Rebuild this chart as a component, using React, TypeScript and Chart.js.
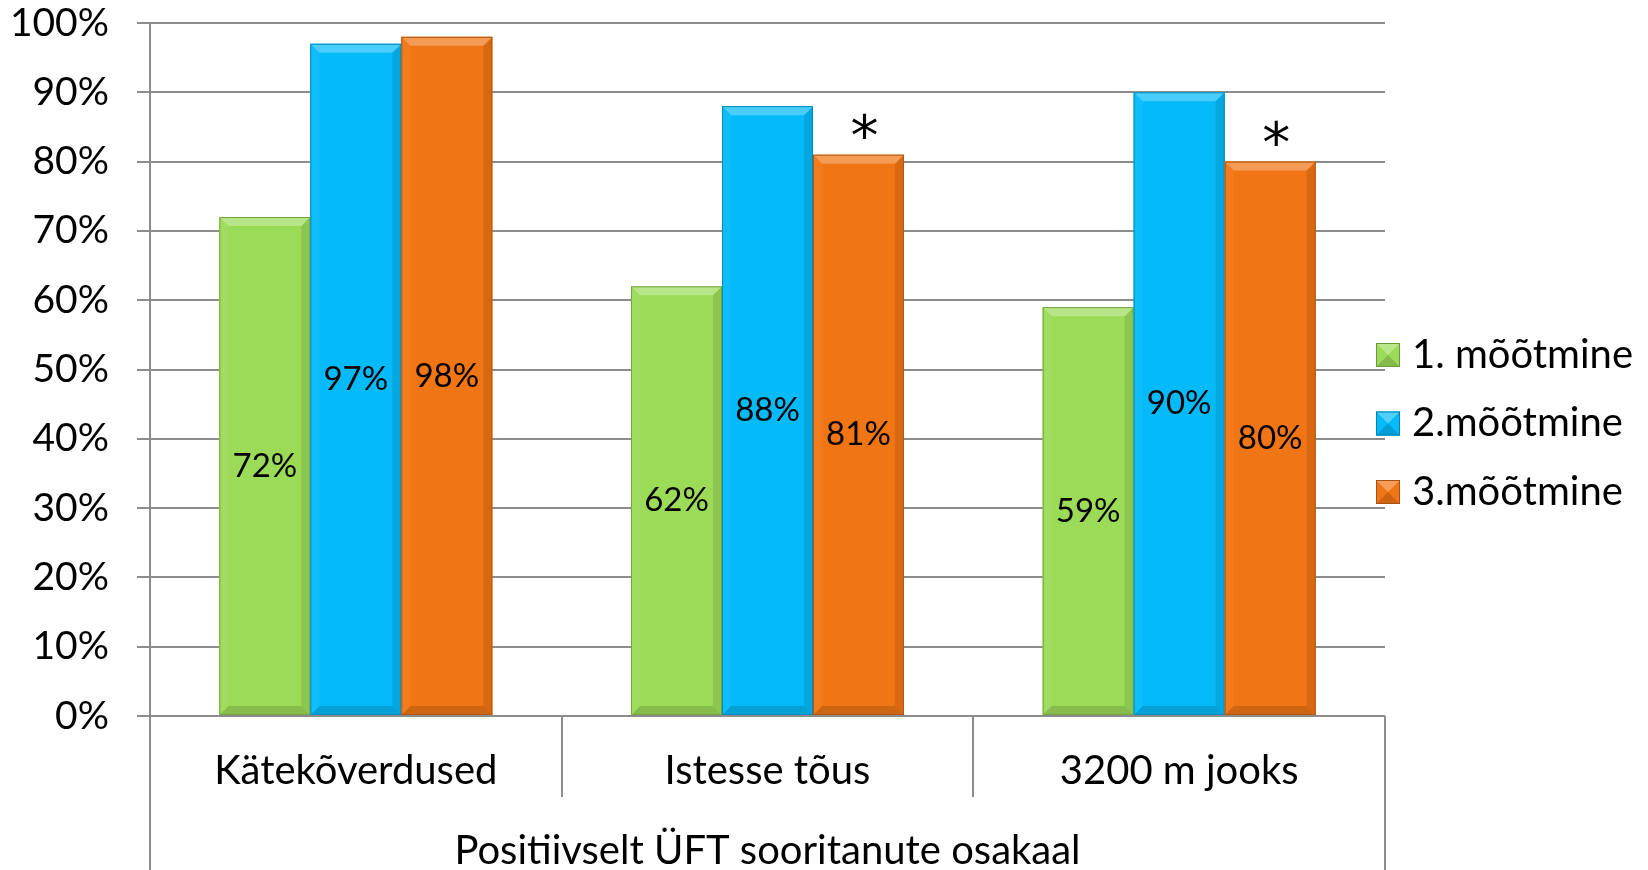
import React, { useEffect, useRef } from "react";
import { Chart, registerables } from "chart.js";

Chart.register(...registerables);

const categories = ["Kätekõverdused", "Istesse tõus", "3200 m jooks"];
const seriesNames = ["1. mõõtmine", "2.mõõtmine", "3.mõõtmine"];
const series1 = [72, 62, 59];
const series2 = [97, 88, 90];
const series3 = [98, 81, 80];
const seriesMarks3 = ["", "*", "*"];
const axisTitle = "Positiivselt ÜFT sooritanute osakaal";
const colors = ["#9BDB58", "#05BAF9", "#F07514"];

const FONT = "Lato, 'Open Sans', sans-serif";
const GRID = "#8c8c8c";

function shade(hex: string, amt: number): string {
  const n = parseInt(hex.slice(1), 16);
  let r = (n >> 16) & 255, g = (n >> 8) & 255, b = n & 255;
  const f = (c: number) =>
    Math.round(amt >= 0 ? c + (255 - c) * amt : c * (1 + amt));
  return `rgb(${f(r)},${f(g)},${f(b)})`;
}

const decorPlugin = {
  id: "decor",
  afterDatasetsDraw(chart: any) {
    const ctx = chart.ctx;
    ctx.save();
    chart.data.datasets.forEach((ds: any, di: number) => {
      const meta = chart.getDatasetMeta(di);
      const base = colors[di];
      meta.data.forEach((bar: any, i: number) => {
        const x0 = bar.x - bar.width / 2;
        const x1 = bar.x + bar.width / 2;
        const yT = bar.y;
        const yB = bar.base;
        const b = 9;
        ctx.fillStyle = shade(base, -0.1);
        ctx.beginPath();
        ctx.moveTo(x1, yT); ctx.lineTo(x1, yB); ctx.lineTo(x1 - b, yB - b); ctx.lineTo(x1 - b, yT + b);
        ctx.closePath(); ctx.fill();
        ctx.fillStyle = shade(base, -0.14);
        ctx.beginPath();
        ctx.moveTo(x0, yB); ctx.lineTo(x1, yB); ctx.lineTo(x1 - b, yB - b); ctx.lineTo(x0 + b, yB - b);
        ctx.closePath(); ctx.fill();
        ctx.fillStyle = shade(base, 0.04);
        ctx.beginPath();
        ctx.moveTo(x0, yT); ctx.lineTo(x0, yB); ctx.lineTo(x0 + b, yB - b); ctx.lineTo(x0 + b, yT + b);
        ctx.closePath(); ctx.fill();
        ctx.fillStyle = shade(base, 0.28);
        ctx.beginPath();
        ctx.moveTo(x0, yT); ctx.lineTo(x1, yT); ctx.lineTo(x1 - b, yT + b); ctx.lineTo(x0 + b, yT + b);
        ctx.closePath(); ctx.fill();
        ctx.strokeStyle = shade(base, -0.25);
        ctx.lineWidth = 1;
        ctx.strokeRect(x0 + 0.5, yT + 0.5, bar.width - 1, yB - yT - 1);

        ctx.fillStyle = "#000";
        ctx.font = `33px ${FONT}`;
        ctx.textAlign = "center";
        ctx.textBaseline = "middle";
        ctx.fillText(ds.data[i] + "%", bar.x, (yT + yB) / 2);

        if (di === 2 && seriesMarks3[i]) {
          ctx.font = `56px 'DejaVu Sans', sans-serif`;
          ctx.textBaseline = "middle";
          ctx.fillText(seriesMarks3[i], bar.x + 6, yT - 14);
        }
      });
    });
    ctx.restore();
  },
  afterDraw(chart: any) {
    const ctx = chart.ctx;
    const { left, right, bottom } = chart.chartArea;
    const n = categories.length;
    const w = (right - left) / n;
    ctx.save();
    ctx.strokeStyle = GRID;
    ctx.lineWidth = 2;
    for (let i = 0; i <= n; i++) {
      const xx = Math.round(left + i * w);
      const yEnd = i === 0 || i === n ? chart.height : bottom + 81;
      ctx.beginPath();
      ctx.moveTo(xx, bottom);
      ctx.lineTo(xx, yEnd);
      ctx.stroke();
    }
    ctx.fillStyle = "#000";
    ctx.font = `40px ${FONT}`;
    ctx.textAlign = "center";
    ctx.textBaseline = "middle";
    ctx.fillText(axisTitle, (left + right) / 2, 851);

    const lx = 1376;
    const ly0 = 355;
    const step = 68.5;
    chart.data.datasets.forEach((ds: any, di: number) => {
      const cy = ly0 + di * step;
      const s = 24;
      const c = colors[di];
      ctx.fillStyle = c;
      ctx.fillRect(lx, cy - s / 2, s, s);
      ctx.fillStyle = shade(c, 0.3);
      ctx.beginPath();
      ctx.moveTo(lx, cy - s / 2); ctx.lineTo(lx + s, cy - s / 2); ctx.lineTo(lx + s / 2, cy);
      ctx.closePath(); ctx.fill();
      ctx.fillStyle = shade(c, -0.15);
      ctx.beginPath();
      ctx.moveTo(lx, cy + s / 2); ctx.lineTo(lx + s, cy + s / 2); ctx.lineTo(lx + s / 2, cy);
      ctx.closePath(); ctx.fill();
      ctx.strokeStyle = shade(c, -0.3);
      ctx.lineWidth = 1;
      ctx.strokeRect(lx + 0.5, cy - s / 2 + 0.5, s - 1, s - 1);
      ctx.fillStyle = "#000";
      ctx.font = `40px ${FONT}`;
      ctx.textAlign = "left";
      ctx.textBaseline = "middle";
      ctx.fillText(ds.label, lx + 36, cy);
    });
    ctx.restore();
  },
};

export default function App() {
  const ref = useRef<HTMLCanvasElement | null>(null);
  useEffect(() => {
    if (!ref.current) return;
    const chart = new Chart(ref.current, {
      type: "bar",
      data: {
        labels: categories,
        datasets: [
          { label: seriesNames[0], data: series1, backgroundColor: colors[0] },
          { label: seriesNames[1], data: series2, backgroundColor: colors[1] },
          { label: seriesNames[2], data: series3, backgroundColor: colors[2] },
        ],
      },
      options: {
        responsive: false,
        animation: false,
        layout: { padding: { top: 23, right: 263, left: 0, bottom: 0 } },
        datasets: { bar: { categoryPercentage: 0.663, barPercentage: 1.0 } },
        plugins: { legend: { display: false }, tooltip: { enabled: false } },
        scales: {
          x: {
            grid: { display: false, drawTicks: false },
            border: { display: false },
            ticks: { color: "#000", font: { family: FONT, size: 40 }, padding: 31 },
            afterFit: (s: any) => { s.height = 154; s.paddingLeft = 0; s.paddingRight = 0; },
          },
          y: {
            min: 0,
            max: 100,
            ticks: {
              stepSize: 10,
              color: "#000",
              font: { family: FONT, size: 39, lineHeight: 1.15 },
              padding: 28,
              callback: (v: any) => v + "%",
            },
            grid: { color: GRID, lineWidth: 2, drawTicks: true, tickLength: 13, tickColor: GRID },
            border: { display: true, color: GRID, width: 2 },
            afterFit: (s: any) => { s.width = 150; s.paddingTop = 0; s.paddingBottom = 0; },
          },
        },
      },
      plugins: [decorPlugin],
    } as any);
    return () => chart.destroy();
  }, []);
  return (
    <div style={{ position: "fixed", left: 0, top: 0, width: 1648, height: 870, background: "#fff" }}>
      <canvas ref={ref} width={1648} height={870} />
    </div>
  );
}
